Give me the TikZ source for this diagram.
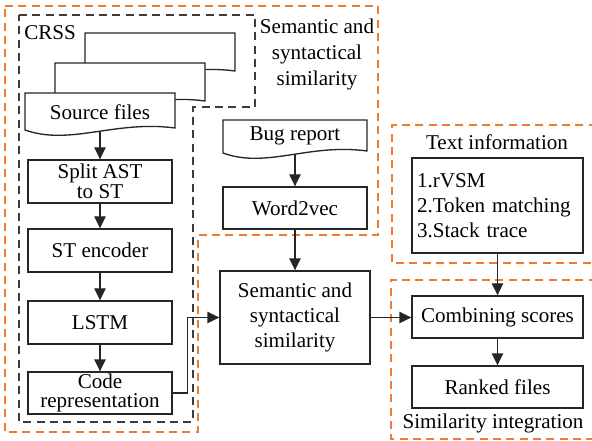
\documentclass[tikz,border=0pt]{standalone}
\usepackage{fontspec}
\setmainfont{Liberation Serif}
\usetikzlibrary{arrows.meta}
\definecolor{orng}{RGB}{237,125,49}
\definecolor{dgray}{RGB}{38,38,38}
\definecolor{crssgray}{RGB}{60,60,60}
\newcommand\docshp[4]{\filldraw[draw=dgray,fill=white,line width=1pt] (#1,#2) -- (#3,#2) -- (#3,{#4-2}) .. controls ({#1+0.6*(#3-#1)},{#4-10}) and ({#1+0.3*(#3-#1)},{#4+16}) .. (#1,#4) -- cycle;}
\begin{document}
\begin{tikzpicture}[x=0.75pt,y=-0.75pt,
  font=\fontsize{15.8}{19}\selectfont,
  box/.style={draw=dgray, line width=1pt, fill=white, inner sep=0pt,
    minimum width=108pt, minimum height=32.25pt, align=center},
  plain/.style={inner sep=0pt, align=center},
  tip/.tip={Triangle[length=9pt,width=8.5pt]},
  arr/.style={draw=dgray, line width=1pt, -tip},
  orangeline/.style={draw=orng, line width=1pt, dash pattern=on 6pt off 4pt},
  grayline/.style={draw=crssgray, line width=1pt, dash pattern=on 6pt off 4pt}]
\useasboundingbox (0,0) rectangle (592,441);

% regions
\draw[orangeline] (5,6) -- (378,6) -- (378,235) -- (198,235) -- (198,432) -- (5,432) -- cycle;
\draw[orangeline] (610,125) -- (392,125) -- (392,263) -- (610,263);
\draw[orangeline] (610,280) -- (391,280) -- (391,439) -- (610,439);
\draw[grayline] (19,15) -- (255,15) -- (255,107) -- (193,107) -- (193,422) -- (19,422) -- cycle;

% region labels
\node[plain, anchor=west] (crss) at (24,33) {CRSS};
\node[plain, font=\fontsize{15.8}{19.5}\selectfont] (semlabel) at (317,54) {Semantic and\\syntactical\\similarity};
\node[plain] (textlabel) at (497,142) {Text information};
\node[plain] (simlabel) at (493,423) {Similarity integration};

% source files (multi-document)
\docshp{85}{33}{235}{73}
\docshp{55}{63}{205}{103}
\docshp{25}{93}{175}{130}
\node[plain] (src) at (100,112) {Source files};
\coordinate (srcbot) at (100,131);

% bug report (document)
\docshp{223}{120}{367}{153}
\node[plain] (bug) at (295,136) {Bug report};
\coordinate (bugbot) at (295,154);

% left column
\node[box, font=\fontsize{15.8}{15}\selectfont] (split) at (100,181.5) {Split AST\\to ST};
\node[box] (enc) at (100,250.5) {ST encoder};
\node[box] (lstm) at (100,322.5) {LSTM};
\node[box, minimum height=31.5pt, font=\fontsize{15.8}{14.25}\selectfont] (code) at (100,393) {Code\\representation};

% middle
\node[box, minimum height=31.5pt] (w2v) at (295,208) {Word2vec};
\node[box, minimum width=112.5pt, minimum height=69.75pt, font=\fontsize{15.8}{19}\selectfont] (sem) at (295,317.5) {Semantic and\\syntactical\\similarity};

% right
\node[box, minimum width=128.25pt, minimum height=71.25pt, text width=120.75pt, align=left, inner xsep=3.75pt, font=\fontsize{15.8}{18.75}\selectfont] (text) at (497.5,205.5) {1.rVSM\\2.Token matching\\3.Stack trace};
\node[box, minimum width=128.25pt, minimum height=31.5pt] (comb) at (497.5,317) {Combining scores};
\node[box, minimum width=128.25pt, minimum height=31.5pt] (rank) at (497.5,387) {Ranked files};

% connectors
\draw[arr] (srcbot) -- (split);
\draw[arr] (split) -- (enc);
\draw[arr] (enc) -- (lstm);
\draw[arr] (lstm) -- (code);
\draw[arr] (bugbot) -- (w2v);
\draw[arr] (w2v) -- (sem);
\draw[arr] (code.east) -- ++(15,0) |- (sem.west);
\draw[arr] (sem.east) -- (sem.east -| comb.west);
\draw[arr] (text) -- (comb);
\draw[arr] (comb) -- (rank);
\end{tikzpicture}
\end{document}
